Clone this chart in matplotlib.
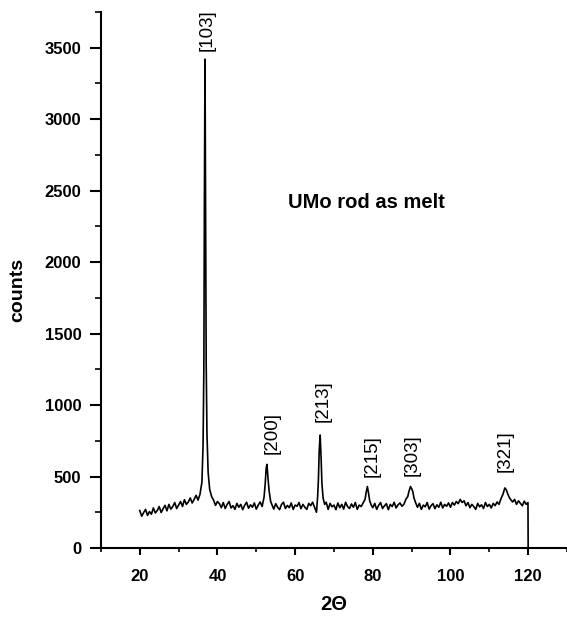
import matplotlib
matplotlib.use('Agg')
import matplotlib.pyplot as plt
from matplotlib.ticker import MultipleLocator

plt.rcParams['font.family'] = ['Liberation Sans', 'DejaVu Sans']

# diffraction pattern (2theta in degrees, counts)
two_theta = [
    20.0, 20.5, 21.0, 21.5, 22.0, 22.5, 23.0, 23.5, 24.0, 24.5,
    25.0, 25.5, 26.0, 26.5, 27.0, 27.5, 28.0, 28.5, 29.0, 29.5,
    30.0, 30.5, 31.0, 31.5, 32.0, 32.5, 33.0, 33.5, 34.0, 34.5,
    35.0, 35.5, 36.0, 36.3, 36.5, 36.65, 36.8, 36.95, 37.1, 37.3,
    37.6, 38.0, 38.5, 39.0, 39.5, 40.0, 40.5, 41.0, 41.5, 42.0,
    42.5, 43.0, 43.5, 44.0, 44.5, 45.0, 45.5, 46.0, 46.5, 47.0,
    47.5, 48.0, 48.5, 49.0, 49.5, 50.0, 50.5, 51.0, 51.5, 52.0,
    52.3, 52.55, 52.75, 53.0, 53.3, 53.7, 54.0, 54.5, 55.0, 55.5,
    56.0, 56.5, 57.0, 57.5, 58.0, 58.5, 59.0, 59.5, 60.0, 60.5,
    61.0, 61.5, 62.0, 62.5, 63.0, 63.5, 64.0, 64.5, 65.0, 65.5,
    65.8, 66.0, 66.2, 66.45, 66.7, 66.9, 67.2, 67.6, 68.0, 68.5,
    69.0, 69.5, 70.0, 70.5, 71.0, 71.5, 72.0, 72.5, 73.0, 73.5,
    74.0, 74.5, 75.0, 75.5, 76.0, 76.5, 77.0, 77.5, 78.0, 78.3,
    78.6, 78.9, 79.2, 79.6, 80.0, 80.5, 81.0, 81.5, 82.0, 82.5,
    83.0, 83.5, 84.0, 84.5, 85.0, 85.5, 86.0, 86.5, 87.0, 87.5,
    88.0, 88.5, 89.0, 89.3, 89.7, 90.0, 90.3, 90.6, 91.0, 91.5,
    92.0, 92.5, 93.0, 93.5, 94.0, 94.5, 95.0, 95.5, 96.0, 96.5,
    97.0, 97.5, 98.0, 98.5, 99.0, 99.5, 100.0, 100.5, 101.0, 101.5,
    102.0, 102.5, 103.0, 103.5, 104.0, 104.5, 105.0, 105.5, 106.0, 106.5,
    107.0, 107.5, 108.0, 108.5, 109.0, 109.5, 110.0, 110.5, 111.0, 111.5,
    112.0, 112.5, 113.0, 113.5, 114.0, 114.4, 114.8, 115.2, 115.6, 116.0,
    116.5, 117.0, 117.5, 118.0, 118.5, 119.0, 119.5, 119.95, 120.0,
]
counts = [
    262, 222, 248, 270, 228, 255, 236, 280, 245, 262,
    290, 248, 275, 298, 260, 305, 272, 290, 318, 276,
    300, 325, 290, 338, 305, 322, 350, 315, 340, 368,
    335, 375, 460, 720, 1250, 2500, 3420, 2450, 1300, 800,
    530, 410, 360, 335, 298, 325, 310, 282, 318, 276,
    305, 325, 280, 296, 270, 312, 285, 305, 268, 298,
    320, 278, 302, 285, 315, 272, 300, 322, 290, 355,
    450, 560, 585, 495, 400, 325, 305, 272, 310, 285,
    268, 305, 320, 276, 298, 282, 315, 270, 300, 292,
    318, 275, 305, 285, 270, 312, 296, 320, 285, 250,
    360, 480, 680, 790, 620, 450, 350, 305, 320, 270,
    312, 288, 300, 268, 315, 282, 305, 272, 320, 290,
    276, 308, 285, 318, 270, 300, 290, 315, 340, 390,
    430, 385, 330, 300, 282, 312, 270, 298, 318, 276,
    295, 310, 268, 305, 290, 320, 280, 302, 315, 292,
    305, 340, 360, 395, 430, 415, 395, 350, 318, 285,
    312, 270, 300, 288, 318, 272, 296, 310, 275, 302,
    285, 320, 280, 305, 292, 315, 285, 318, 300, 325,
    310, 340, 318, 330, 295, 318, 282, 305, 290, 270,
    312, 288, 302, 276, 318, 290, 305, 280, 312, 296,
    322, 305, 345, 375, 420, 405, 375, 350, 335, 322,
    340, 305, 330, 312, 295, 328, 305, 318, 0,
]

# reflection labels and where they sit (2theta, counts at label base)
peak_names = ['[103]', '[200]', '[213]', '[215]', '[303]', '[321]']
peak_x = [37.3, 54.2, 67.1, 79.8, 90.1, 114.1]
peak_y = [3480, 655, 880, 495, 505, 530]

fig = plt.figure(figsize=(5.67, 6.18), dpi=100)
ax = fig.add_axes([0.178, 0.1133, 0.822, 0.8673])

ax.plot(two_theta, counts, color='black', lw=1.2)

for name, px, py in zip(peak_names, peak_x, peak_y):
    ax.text(px, py, name, rotation=90, ha='center', va='bottom', fontsize=13.5)

ax.text(58.1, 2414, 'UMo rod as melt', ha='left', va='center',
        fontsize=14.5, fontweight='bold')

ax.set_xlim(10, 130)
ax.set_ylim(0, 3750)
ax.xaxis.set_major_locator(MultipleLocator(20))
ax.xaxis.set_minor_locator(MultipleLocator(10))
ax.yaxis.set_major_locator(MultipleLocator(500))
ax.yaxis.set_minor_locator(MultipleLocator(250))
ax.set_xticks([20, 40, 60, 80, 100, 120])

for side in ['top', 'right']:
    ax.spines[side].set_visible(False)
for side in ['left', 'bottom']:
    ax.spines[side].set_linewidth(1.5)

ax.tick_params(axis='y', which='major', length=8, width=1.5, pad=6, labelsize=12)
ax.tick_params(axis='y', which='minor', length=4, width=1.2)
ax.tick_params(axis='x', which='major', length=5, width=1.5, pad=10, labelsize=12)
ax.tick_params(axis='x', which='minor', length=3, width=1.2)
for lab in ax.get_xticklabels() + ax.get_yticklabels():
    lab.set_fontweight('bold')

fig.text(18 / 567, 1 - 290 / 618, 'counts', rotation=90, ha='center', va='center',
         fontsize=14, fontweight='bold')
fig.text(334 / 567, 1 - 605 / 618, '2\u0398', ha='center', va='center',
         fontsize=14.5, fontweight='bold')

fig.savefig('out.png', dpi=100)
